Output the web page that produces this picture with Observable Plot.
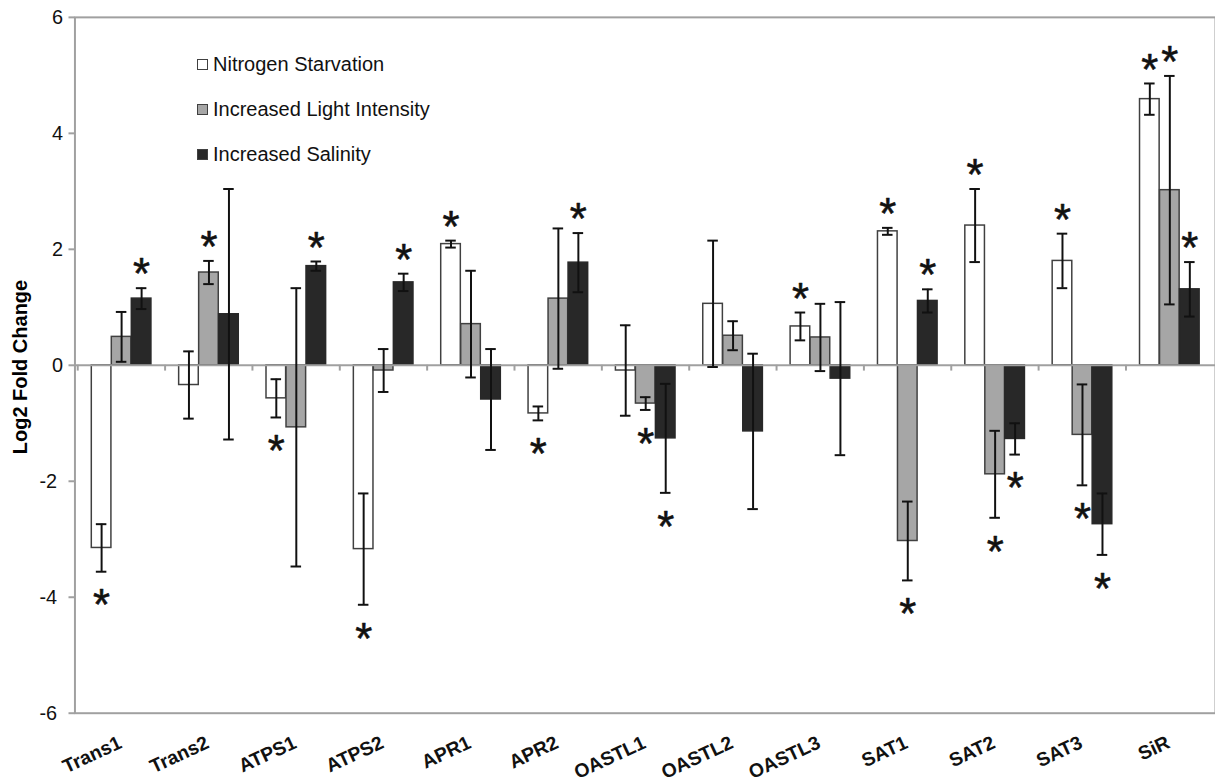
<!DOCTYPE html>
<html>
<head>
<meta charset="utf-8">
<script src="https://cdn.jsdelivr.net/npm/d3@7"></script>
<script src="https://cdn.jsdelivr.net/npm/@observablehq/plot@0.6"></script>
<style>
  html, body { margin: 0; padding: 0; background: #fff; overflow: hidden; }
  #wrap { position: relative; width: 1215px; height: 779px; overflow: hidden; font-family: "Liberation Sans", Arial, sans-serif; }
  #chart { position: absolute; left: 0; top: 0; }
  .legend { position: absolute; left: 197px; display: flex; align-items: center; font-size: 20px; color: #111; white-space: nowrap; }
  .legend .sw { width: 9px; height: 9px; border: 1px solid #404040; margin-right: 5px; }
  #ylabel { position: absolute; left: 0; top: 0; font-size: 20px; font-weight: bold; white-space: nowrap; line-height: normal; transform-origin: 0 0; transform: translate(9px, 367px) rotate(-90deg) translate(-50%, 0); }
</style>
</head>
<body>
<div id="wrap">
  <div id="chart"></div>
  <div id="ylabel">Log2 Fold Change</div>
</div>
<script>
const genes = ["Trans1","Trans2","ATPS1","ATPS2","APR1","APR2","OASTL1","OASTL2","OASTL3","SAT1","SAT2","SAT3","SiR"];
const seriesNames = ["Nitrogen Starvation","Increased Light Intensity","Increased Salinity"];

const nitrogen    = [-3.15, -0.34, -0.57, -3.17, 2.09, -0.83, -0.09, 1.06, 0.67, 2.31, 2.41, 1.80, 4.59];
const nitrogenErr = [ 0.41,  0.58,  0.33,  0.96, 0.06,  0.12,  0.78, 1.09, 0.24, 0.06, 0.63, 0.47, 0.27];
const nitrogenSig = [1,0,1,1,1,1,0,0,1,1,1,1,1];

const light    = [0.49, 1.60, -1.07, -0.09, 0.71, 1.15, -0.66, 0.51, 0.48, -3.03, -1.88, -1.20, 3.02];
const lightErr = [0.43, 0.20,  2.40,  0.37, 0.92, 1.21,  0.11, 0.25, 0.58,  0.68,  0.75,  0.87, 1.97];
const lightSig = [0,1,0,0,0,0,1,0,0,1,1,1,1];

const salinity    = [1.15, 0.88, 1.71, 1.43, -0.59, 1.77, -1.26, -1.14, -0.23, 1.11, -1.27, -2.74, 1.31];
const salinityErr = [0.18, 2.16, 0.08, 0.15,  0.87, 0.51,  0.94,  1.34,  1.32, 0.20,  0.27,  0.53, 0.47];
const salinitySig = [1,0,1,1,0,1,1,0,0,1,1,1,1];

const yTicksPos = [0, 2, 4, 6];
const yTicksNeg = [-2, -4, -6];

const fills = ["#ffffff", "#a6a6a6", "#282828"];
const strokes = ["#404040", "#404040", "#282828"];

const seriesData = [
  [nitrogen, nitrogenErr, nitrogenSig],
  [light, lightErr, lightSig],
  [salinity, salinityErr, salinitySig]
].map(([v, e, s], si) => genes.map((g, i) => ({gene: g, series: seriesNames[si], value: v[i], err: e[i], sig: s[i], si})));

const W = 1224, H = 779, mL = 75, mR = 0, mT = 17, mB = 61;
const step = (W - mL - mR) / genes.length;
const barW = 20.15;
const pad = (step - 3 * barW) / 2;
const axisGray = "#a0a0a0";
const starSize = 44;

const marks = [];
marks.push(Plot.frame({stroke: axisGray, strokeWidth: 2}));
seriesData.forEach((rows, si) => {
  const insetLeft = pad + si * barW;
  const insetRight = step - insetLeft - barW;
  marks.push(Plot.barY(rows, {x: "gene", y: "value", fill: fills[si], stroke: strokes[si], strokeWidth: 1.5, insetLeft, insetRight}));
});
marks.push(Plot.ruleY([0], {stroke: axisGray, strokeWidth: 2}));
marks.push(Plot.ruleX(genes, {x: d => d, y1: 0, y2: -0.1, dx: -step / 2, stroke: axisGray, strokeWidth: 2}));
seriesData.forEach((rows, si) => {
  const off = (si - 1) * barW;
  marks.push(Plot.ruleX(rows, {x: "gene", y1: d => d.value - d.err, y2: d => d.value + d.err, dx: off, stroke: "#111", strokeWidth: 2}));
  const caps = rows.flatMap(d => [{gene: d.gene, y: d.value - d.err}, {gene: d.gene, y: d.value + d.err}]);
  marks.push(Plot.tickY(caps, {x: "gene", y: "y", stroke: "#111", strokeWidth: 2, insetLeft: step / 2 + off - 5.5, insetRight: step / 2 - off - 5.5}));
  marks.push(Plot.text(rows.filter(d => d.sig && d.value >= 0), {x: "gene", y: d => d.value + d.err, dx: off, dy: -13, text: () => "*", fontSize: starSize, fill: "#111", stroke: "#111", strokeWidth: 0.6}));
  marks.push(Plot.text(rows.filter(d => d.sig && d.value < 0), {x: "gene", y: d => d.value - d.err, dx: off, dy: 35, text: () => "*", fontSize: starSize, fill: "#111", stroke: "#111", strokeWidth: 0.6}));
});
marks.push(Plot.axisY({ticks: yTicksPos, tickSize: 6, tickPadding: 6, fontSize: 20, stroke: axisGray, strokeWidth: 2, fill: "#111", label: null}));
marks.push(Plot.axisY({ticks: yTicksNeg, tickFormat: d => "-" + Math.abs(d), tickSize: 6, tickPadding: 12, fontSize: 20, stroke: axisGray, strokeWidth: 2, fill: "#111", label: null}));
marks.push(Plot.text(genes, {x: d => d, frameAnchor: "bottom", dy: 28.5, dx: -1.3, rotate: -25, textAnchor: "end", lineAnchor: "middle", text: d => d, fontSize: 19.5, fontWeight: "bold", fill: "#111"}));

const chart = Plot.plot({
  width: W, height: H,
  marginLeft: mL, marginRight: mR, marginTop: mT, marginBottom: mB,
  style: {fontFamily: '"Liberation Sans", Arial, sans-serif', background: "#fff", overflow: "visible"},
  x: {type: "band", domain: genes, padding: 0, axis: null},
  y: {domain: [-6, 6], axis: null},
  marks
});
document.getElementById("chart").appendChild(chart);

const wrap = document.getElementById("wrap");
const legendTops = [59.5, 105, 150];
seriesNames.forEach((name, i) => {
  const div = document.createElement("div");
  div.className = "legend";
  div.style.top = (legendTops[i] - 7) + "px";
  const sw = document.createElement("span");
  sw.className = "sw";
  sw.style.background = fills[i];
  const t = document.createElement("span");
  t.textContent = name;
  div.appendChild(sw); div.appendChild(t);
  wrap.appendChild(div);
});
</script>
</body>
</html>
